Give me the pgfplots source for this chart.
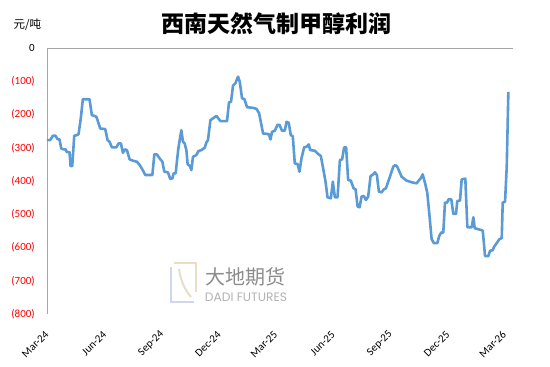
\documentclass[border=0pt]{standalone}
\usepackage{pgfplots}
\pgfplotsset{compat=1.18}
\usepackage{fontspec}
\usepackage{graphicx}
\setmainfont{Carlito}
\newfontfamily\cjk{Noto Sans CJK SC}
\newfontfamily\logofont{Poppins}
\definecolor{lineblue}{RGB}{91,155,213}
\definecolor{axgray}{RGB}{166,166,166}
\definecolor{logotan}{RGB}{236,222,196}
\definecolor{logoblue}{RGB}{206,216,234}
\definecolor{negred}{RGB}{255,0,0}
\begin{document}
\begin{tikzpicture}
\path[use as bounding box] (-47pt,-53pt) rectangle (503pt,314pt);
% watermark
\draw[logotan, line width=2.8pt] (127pt,51pt) -- (149pt,51pt) -- (149pt,22pt);
\draw[logoblue, line width=2.8pt] (124pt,47pt) -- (124pt,12pt) -- (147pt,12pt);
\draw[logotan!80!logoblue, line width=2pt] (132pt,45pt) .. controls (134pt,30pt) and (140pt,22pt) .. (144pt,17pt);
\node[text=black!45, font=\cjk\fontsize{20}{22}\selectfont] at (199pt,37pt) {大地期货};
\node[text=black!30, inner sep=0pt] at (199pt,16.5pt) {\resizebox{82pt}{!}{\logofont DADI FUTURES}};
\node[font=\cjk\bfseries\fontsize{23}{25}\selectfont] at (229.7pt,290pt) {西南天然气制甲醇利润};
\node[font=\cjk\fontsize{11.5}{13}\selectfont] at (-19.7pt,289.3pt) {元/吨};
\begin{axis}[
  scale only axis, width=466pt, height=266pt,
  at={(0,0)}, anchor=south west,
  xmin=0, xmax=744, ymin=-800, ymax=0,
  axis line style={draw=none},
  tick style={draw=none},
  major tick length=0pt,
  xtick={0,92,184,275,365,457,549,640,730},
  xticklabels={Mar-24,Jun-24,Sep-24,Dec-24,Mar-25,Jun-25,Sep-25,Dec-25,Mar-26},
  xticklabel style={font=\fontsize{11}{13}\selectfont, yshift=-18.5pt, rotate=45, anchor=east, inner sep=0pt},
  ytick={-800,-700,-600,-500,-400,-300,-200,-100,0},
  yticklabels={\textcolor{negred}{(800)},\textcolor{negred}{(700)},\textcolor{negred}{(600)},\textcolor{negred}{(500)},\textcolor{negred}{(400)},\textcolor{negred}{(300)},\textcolor{negred}{(200)},\textcolor{negred}{(100)},0},
  yticklabel style={font=\fontsize{11}{13}\selectfont, anchor=east, inner sep=0pt, xshift=-12pt},
  clip=false,
]
\draw[axgray, line width=0.75pt] (rel axis cs:0,0) -- (rel axis cs:0,1) -- (rel axis cs:1,1);
\addplot[lineblue, line width=2.6pt, line join=round, mark=none] coordinates {
(0,-277) (5.1,-277) (9.3,-264) (13.6,-264) (16.8,-274) (20.0,-275) (22.7,-302) (26.4,-305) (29.6,-305) (31.7,-313) (36.0,-313) (37.6,-355) (40.3,-355) (43.5,-264) (47.6,-262) (50.4,-259) (54.0,-211) (57.2,-154) (67.9,-154) (71.6,-202) (77.0,-205) (79.1,-208) (85.0,-242) (93.0,-244) (96.7,-277) (99.9,-282) (103.6,-299) (110.6,-299) (114.3,-287) (118.0,-287) (121.2,-315) (124.4,-305) (127.6,-307) (131.9,-335) (137.2,-339) (143.5,-342) (147.9,-352) (152.2,-365) (157.0,-382) (165.0,-382) (168.2,-382) (171.4,-320) (175.5,-320) (179.8,-332) (184.2,-342) (187.3,-372) (193.1,-374) (196.9,-394) (200.1,-392) (202.2,-377) (205.4,-377) (209.7,-302) (214.5,-247) (217.1,-282) (219.8,-287) (222.5,-307) (224.6,-350) (227.8,-354) (230.5,-367) (233.1,-327) (238.5,-322) (241.7,-310) (246.5,-307) (251.8,-300) (254.5,-284) (257.0,-277) (260.9,-217) (266.2,-210) (270.5,-204) (276.9,-220) (287.4,-220) (290.6,-163) (293.8,-162) (297.0,-113) (300.8,-106) (305.0,-86) (307.7,-101) (311.4,-151) (315.2,-154) (319.4,-178) (329.0,-180) (334.4,-183) (338.6,-196) (345.0,-257) (354.1,-259) (356.8,-275) (359.3,-252) (363.7,-249) (368.0,-231) (371.2,-231) (375.3,-249) (379.6,-249) (382.4,-222) (386.0,-225) (389.2,-262) (392.4,-265) (395.6,-347) (400.0,-349) (403.1,-372) (406.3,-332) (410.5,-299) (414.3,-297) (418.0,-290) (420.1,-307) (427.6,-309) (431.9,-317) (437.2,-325) (440.9,-362) (444.7,-402) (447.9,-449) (453.2,-452) (456.4,-402) (459.6,-449) (463.9,-449) (467.6,-337) (471.2,-335) (474.4,-299) (477.6,-299) (480.8,-397) (485.1,-399) (489.5,-422) (492.7,-425) (495.9,-477) (499.1,-479) (502.2,-447) (505.9,-445) (509.1,-457) (512.8,-447) (516.6,-385) (520.3,-381) (523.5,-374) (526.7,-382) (529.9,-432) (534.2,-434) (537.9,-425) (541.1,-422) (547.5,-387) (552.8,-357) (556.0,-352) (559.2,-357) (566.2,-387) (574.2,-399) (584.7,-405) (590.2,-407) (593.4,-399) (596.6,-392) (599.8,-380) (603.4,-405) (607.1,-435) (610.3,-497) (614.1,-575) (617.8,-587) (623.1,-587) (626.3,-565) (629.5,-555) (632.7,-555) (635.4,-465) (638.6,-465) (641.3,-455) (645.5,-455) (648.7,-499) (653.0,-499) (655.1,-460) (659.4,-459) (662.1,-395) (667.9,-393) (671.1,-539) (678.1,-539) (680.7,-509) (682.9,-542) (688.7,-545) (695.7,-549) (699.4,-626) (704.6,-626) (707.3,-610) (711.7,-608) (713.7,-598) (718.0,-587) (722.2,-575) (726.0,-572) (727.6,-465) (731.3,-462) (734.0,-357) (736.6,-132)
};
\end{axis}
\end{tikzpicture}
\end{document}
